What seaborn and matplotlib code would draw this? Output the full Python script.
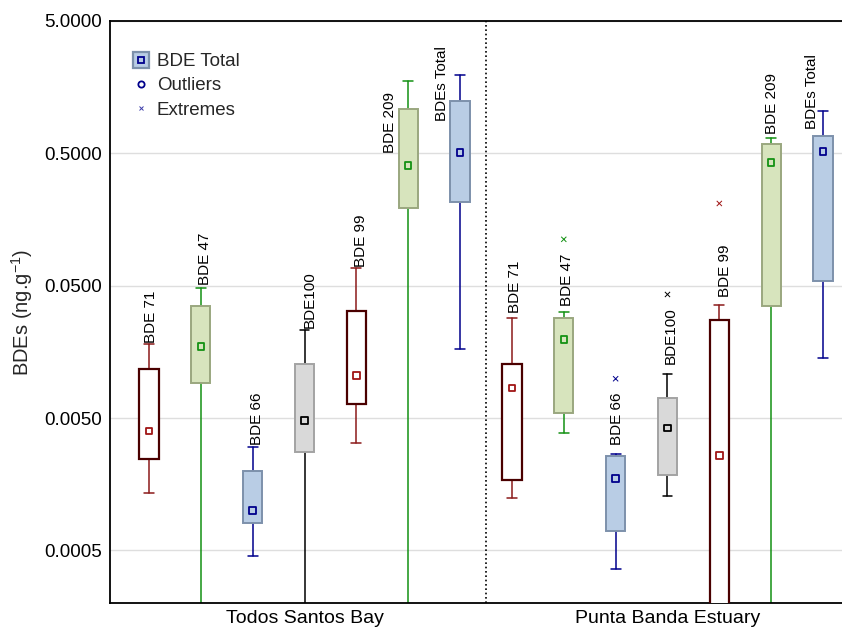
import matplotlib
matplotlib.use("Agg")
import matplotlib.pyplot as plt
import matplotlib.ticker as mticker
from matplotlib.lines import Line2D
from matplotlib.legend_handler import HandlerTuple
import pandas as pd
import seaborn as sns

# ---------------- data ---------------- #
sites = ["Todos Santos Bay", "Punta Banda Estuary"]
congeners = ["BDE 71", "BDE 47", "BDE 66", "BDE100", "BDE 99", "BDE 209", "BDEs Total"]

# one entry per box: 7 congeners for Todos Santos Bay, then 7 for Punta Banda
# (0.0001 = runs off the bottom of the axis)
centre = [0.0040, 0.0173, 0.00100, 0.0048, 0.0105, 0.406, 0.509,
          0.0084, 0.0196, 0.00174, 0.0042, 0.0026, 0.428, 0.518]
box_lo = [0.00247, 0.00926, 0.00081, 0.00279, 0.00643, 0.192, 0.213,
          0.00171, 0.00549, 0.00070, 0.00187, 0.0001, 0.0354, 0.0547]
box_hi = [0.0118, 0.0354, 0.0020, 0.0129, 0.0319, 1.076, 1.237,
          0.0129, 0.0287, 0.0026, 0.00713, 0.0273, 0.585, 0.672]
whisk_lo = [0.00136, 0.0001, 0.00045, 0.0001, 0.00326, 0.0001, 0.0166,
            0.00125, 0.00388, 0.00036, 0.00129, 0.0001, 0.0001, 0.0143]
whisk_hi = [0.0180, 0.0476, 0.00304, 0.0233, 0.0675, 1.753, 1.945,
            0.0287, 0.0314, 0.00269, 0.0108, 0.0360, 0.649, 1.039]

# extremes (box index, value)
extreme_box = [8, 9, 10, 11]
extreme_val = [0.112, 0.0099, 0.0429, 0.209]

# where the rotated name labels sit (value at the label's foot)
label_y = [0.0186, 0.0510, 0.00315, 0.0241, 0.069, 0.504, 0.873,
           0.0313, 0.0348, 0.00315, 0.0127, 0.0407, 0.694, 0.759]
label_dx = [0.04, 0.08, 0.08, 0.11, 0.08, -0.35, -0.35,
            0.06, 0.06, 0.02, 0.06, 0.10, 0.02, -0.21]

yticks = [0.0005, 0.005, 0.05, 0.5, 5.0]

# ---------------- styles ---------------- #
red = dict(fill="white", edge="#4a0000", line="#8b1a1a", mark="#a01515")
green = dict(fill="#d7e4bd", edge="#9aa77f", line="#139113", mark="#139113")
blue = dict(fill="#b9cde5", edge="#7d91ab", line="#00008c", mark="#00008c")
grey = dict(fill="#d9d9d9", edge="#a3a3a3", line="#000000", mark="#000000")
styles = {"BDE 71": red, "BDE 47": green, "BDE 66": blue, "BDE100": grey,
          "BDE 99": red, "BDE 209": green, "BDEs Total": blue}

sns.set_style("white")
plt.rcParams["font.family"] = ["Liberation Sans", "DejaVu Sans"]
plt.rcParams["mathtext.fontset"] = "custom"
plt.rcParams["mathtext.rm"] = "Liberation Sans"

names = congeners * 2
positions = list(range(14))

fig = plt.figure(figsize=(8.42, 6.30), dpi=100)
ax = fig.add_axes([110 / 842, 27 / 630, 732 / 842, 582 / 630])

stats = []
for i in range(14):
    stats.append(dict(med=centre[i], q1=box_lo[i], q3=box_hi[i],
                      whislo=whisk_lo[i], whishi=whisk_hi[i], fliers=[]))

bp = ax.bxp(stats, positions=positions, widths=0.37, capwidths=0.19,
            patch_artist=True, showfliers=False, manage_ticks=False,
            medianprops=dict(linewidth=0))

for i, name in enumerate(names):
    st = styles[name]
    bw = 1.6 if st is red else 1.4
    bp["boxes"][i].set(facecolor=st["fill"], edgecolor=st["edge"], linewidth=bw, zorder=3)
    for ln in bp["whiskers"][2 * i:2 * i + 2] + bp["caps"][2 * i:2 * i + 2]:
        ln.set(color=st["line"], linewidth=1.1, zorder=2)
    ax.scatter(positions[i], centre[i], marker="s", s=22, facecolors="none",
               edgecolors=st["mark"], linewidths=1.3, zorder=4)
    ax.text(positions[i] + label_dx[i], label_y[i], name, rotation=90,
            ha="center", va="bottom", fontsize=11, color="black", zorder=5)

ext = pd.DataFrame({"pos": [positions[b] for b in extreme_box],
                    "val": extreme_val,
                    "congener": [names[b] for b in extreme_box]})
sns.scatterplot(data=ext, x="pos", y="val", hue="congener", marker="x", s=14,
                linewidth=0.7, palette={n: styles[n]["mark"] for n in ext["congener"]},
                legend=False, ax=ax, zorder=4)

# divider between the two sites
ax.axvline(6.5, color="black", linestyle=(0, (1, 1.6)), linewidth=1.2, zorder=1)

ax.set_yscale("log")
ax.set_ylim(0.0002, 5.0)
ax.set_xlim(-0.752, 13.366)
ax.yaxis.set_major_locator(mticker.FixedLocator(yticks))
ax.yaxis.set_major_formatter(mticker.FuncFormatter(lambda v, p: "%.4f" % v))
ax.yaxis.set_minor_locator(mticker.NullLocator())
ax.set_xticks([3, 10])
ax.set_xticklabels(sites)
ax.grid(axis="y", color="#dedede", linewidth=1.0, zorder=0)
ax.set_axisbelow(True)

ax.tick_params(axis="y", direction="in", length=3, width=1, labelsize=13.5, pad=6, colors="black")
ax.tick_params(axis="x", direction="in", length=4, width=1, labelsize=14, pad=5, colors="black")
for side in ["left", "bottom", "top"]:
    ax.spines[side].set_color("black")
    ax.spines[side].set_linewidth(1.3)
ax.spines["right"].set_visible(False)

ax.set_ylabel(r"BDEs (ng.g$^{\mathregular{-1}}$)", fontsize=14.5)
ax.yaxis.set_label_coords(-0.103, 0.5)
ax.set_xlabel("")

# legend
h_total = (Line2D([], [], marker="s", ms=11.5, mfc=blue["fill"], mec=blue["edge"], mew=1.6, ls="none"),
           Line2D([], [], marker="s", ms=4.2, mfc="none", mec=blue["mark"], mew=1.3, ls="none"))
h_out = Line2D([], [], marker="o", ms=4.5, mfc="none", mec=blue["mark"], mew=1.3, ls="none")
h_ext = Line2D([], [], marker="x", ms=3.5, mec="#3a3aa8", mew=0.7, ls="none")
ax.legend([h_total, h_out, h_ext], ["BDE Total", "Outliers", "Extremes"],
          handler_map={tuple: HandlerTuple(ndivide=1, pad=0)},
          loc="upper left", bbox_to_anchor=(131.6 / 842, 1 - 53 / 630),
          bbox_transform=fig.transFigure, frameon=False, fontsize=13.5,
          handlelength=1.0, handletextpad=0.35, labelspacing=0.38,
          borderpad=0, borderaxespad=0)

fig.savefig("out.png", dpi=100)
